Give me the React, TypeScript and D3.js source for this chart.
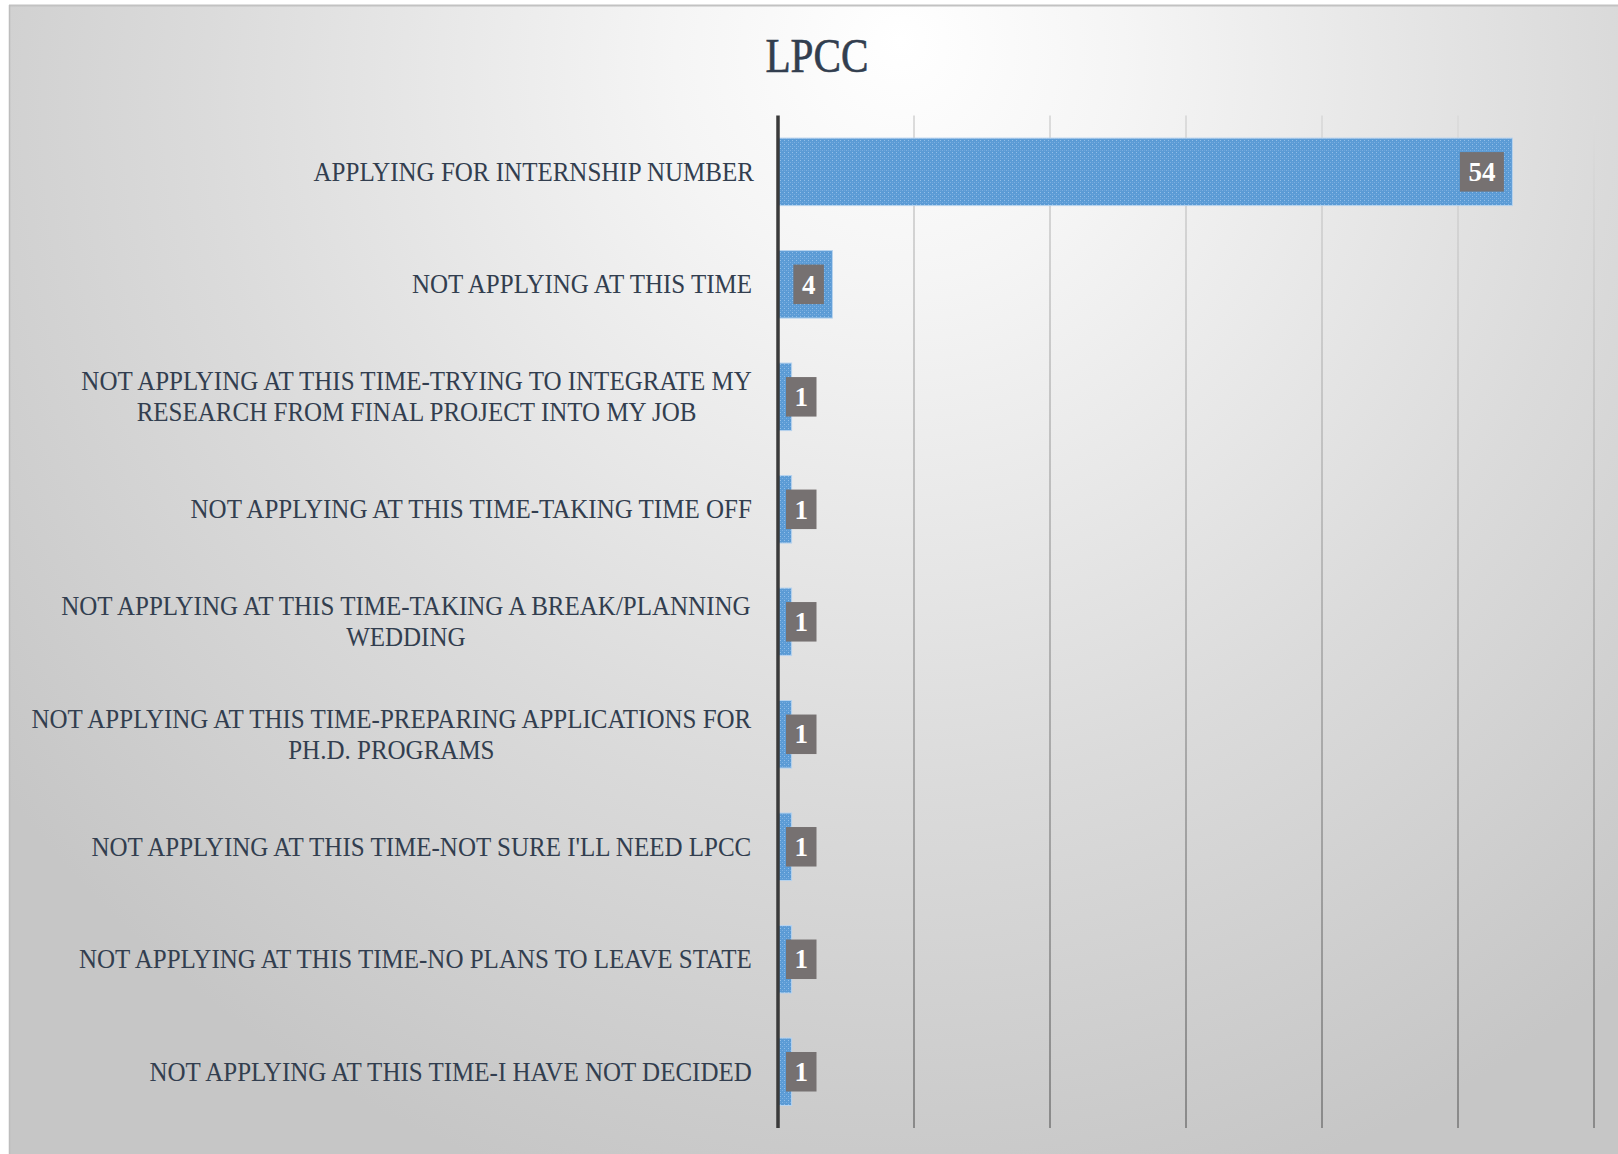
import React from "react";
import * as d3 from "d3";

const title = "LPCC";
const categories: string[] = [
  "APPLYING FOR INTERNSHIP NUMBER",
  "NOT APPLYING AT THIS TIME",
  "NOT APPLYING AT THIS TIME-TRYING TO INTEGRATE MY\nRESEARCH FROM FINAL PROJECT INTO MY JOB",
  "NOT APPLYING AT THIS TIME-TAKING TIME OFF",
  "NOT APPLYING AT THIS TIME-TAKING A BREAK/PLANNING\nWEDDING",
  "NOT APPLYING AT THIS TIME-PREPARING APPLICATIONS FOR\nPH.D. PROGRAMS",
  "NOT APPLYING AT THIS TIME-NOT SURE I'LL NEED LPCC",
  "NOT APPLYING AT THIS TIME-NO PLANS TO LEAVE STATE",
  "NOT APPLYING AT THIS TIME-I HAVE NOT DECIDED",
];
const values: number[] = [54, 4, 1, 1, 1, 1, 1, 1, 1];
const xTicks: number[] = [0, 10, 20, 30, 40, 50, 60];

const W = 1618;
const H = 1154;
const FONT = '"Liberation Serif", "DejaVu Serif", serif';
const TEXT_COLOR = "#323E4F";
const LABEL_SIZE = 26.5;
const LABEL_SX = 0.944;
const VAL_SIZE = 27;

let ctx: CanvasRenderingContext2D | null = null;
function measure(text: string, font: string): number {
  if (!ctx) ctx = document.createElement("canvas").getContext("2d");
  if (!ctx) return text.length * 10;
  ctx.font = font;
  return ctx.measureText(text).width;
}

export default function App() {
  const plotLeft = 778;
  const plotRight = 1594;
  const plotTop = 115.6;
  const plotBottom = 1128;

  const x = d3.scaleLinear().domain([0, 60]).range([plotLeft, plotRight]);
  const y = d3
    .scaleBand<string>()
    .domain(categories)
    .range([plotTop, plotBottom])
    .paddingInner(0.4)
    .paddingOuter(0.2);

  const labelRight = 754.5;

  return (
    <svg
      width={W}
      height={H}
      style={{ position: "absolute", left: 0, top: 0, display: "block" }}
    >
      <defs>
        <radialGradient
          id="bg"
          gradientUnits="userSpaceOnUse"
          cx={900}
          cy={120}
          r={1120}
          fx={900}
          fy={40}
        >
          <stop offset="0" stopColor="#FFFFFF" />
          <stop offset="0.2" stopColor="#F5F5F5" />
          <stop offset="0.62" stopColor="#DBDBDB" />
          <stop offset="1" stopColor="#C6C6C6" />
        </radialGradient>
        <linearGradient
          id="gridGrad"
          gradientUnits="userSpaceOnUse"
          x1={0}
          y1={plotTop}
          x2={0}
          y2={plotBottom}
        >
          <stop offset="0" stopColor="#DCDCDC" />
          <stop offset="1" stopColor="#8A8A8A" />
        </linearGradient>
        <pattern
          id="barPat"
          patternUnits="userSpaceOnUse"
          width={4}
          height={4}
        >
          <rect x={0} y={0} width={4} height={4} fill="#5B9BD5" />
          <rect x={0} y={0} width={1} height={1} fill="#93BFE8" />
          <rect x={2} y={2} width={1} height={1} fill="#7DB0E1" />
          <rect x={0} y={2} width={1} height={1} fill="#6CA5DB" />
        </pattern>
      </defs>

      <rect x={0} y={0} width={W} height={H} fill="#FFFFFF" />
      <rect x={9} y={5} width={W - 9} height={H - 5} fill="url(#bg)" />
      <line x1={9} y1={5.5} x2={W} y2={5.5} stroke="#C2C2C2" strokeWidth={2} />
      <line x1={9.5} y1={5} x2={9.5} y2={H} stroke="#BDBDBD" strokeWidth={1.5} />

      {/* title */}
      <g transform={`translate(817, 71.5) scale(0.86, 1)`}>
        <text
          x={0}
          y={0}
          textAnchor="middle"
          fontFamily={FONT}
          fontSize={48}
          fill={TEXT_COLOR}
          stroke={TEXT_COLOR}
          strokeWidth={0.6}
        >
          {title}
        </text>
      </g>

      {/* gridlines */}
      {xTicks
        .filter((t) => t > 0)
        .map((t) => (
          <line
            key={t}
            x1={x(t)}
            x2={x(t)}
            y1={plotTop}
            y2={plotBottom}
            stroke="url(#gridGrad)"
            strokeWidth={2}
          />
        ))}

      {/* bars */}
      {categories.map((c, i) => {
        const y0 = y(c) as number;
        return (
          <rect
            key={c}
            x={x(0)}
            y={y0}
            width={x(values[i]) - x(0)}
            height={y.bandwidth()}
            fill="url(#barPat)"
            stroke="#B7D3EE"
            strokeWidth={1}
          />
        );
      })}

      {/* axis */}
      <line
        x1={plotLeft}
        x2={plotLeft}
        y1={plotTop}
        y2={plotBottom}
        stroke="#3A3A3A"
        strokeWidth={3.5}
      />

      {/* category labels */}
      {categories.map((c) => {
        const lines = c.split("\n");
        const cy = (y(c) as number) + y.bandwidth() / 2;
        const font = `${LABEL_SIZE}px ${FONT}`;
        const widths = lines.map((l) => measure(l, font) * LABEL_SX);
        const maxW = Math.max(...widths);
        const cx = labelRight - maxW / 2;
        const lh = 31;
        const startCenter = cy - ((lines.length - 1) * lh) / 2;
        return (
          <g key={c}>
            {lines.map((l, j) => (
              <g
                key={j}
                transform={`translate(${cx}, ${
                  startCenter + j * lh + LABEL_SIZE * 0.33
                }) scale(${LABEL_SX}, 1)`}
              >
                <text
                  x={0}
                  y={0}
                  textAnchor="middle"
                  fontFamily={FONT}
                  fontSize={LABEL_SIZE}
                  fill={TEXT_COLOR}
                >
                  {l}
                </text>
              </g>
            ))}
          </g>
        );
      })}

      {/* data labels */}
      {categories.map((c, i) => {
        const cy = (y(c) as number) + y.bandwidth() / 2;
        const txt = String(values[i]);
        const tw = measure(txt, `bold ${VAL_SIZE}px ${FONT}`);
        const bw = tw + 17;
        const bh = 39.5;
        const right = x(values[i]) - 8.5;
        const left = Math.max(right - bw, plotLeft + 8);
        return (
          <g key={c}>
            <rect x={left} y={cy - bh / 2} width={bw} height={bh} fill="#767171" />
            <text
              x={left + bw / 2}
              y={cy + 9.2}
              textAnchor="middle"
              fontFamily={FONT}
              fontWeight="bold"
              fontSize={VAL_SIZE}
              fill="#FFFFFF"
            >
              {txt}
            </text>
          </g>
        );
      })}
    </svg>
  );
}
